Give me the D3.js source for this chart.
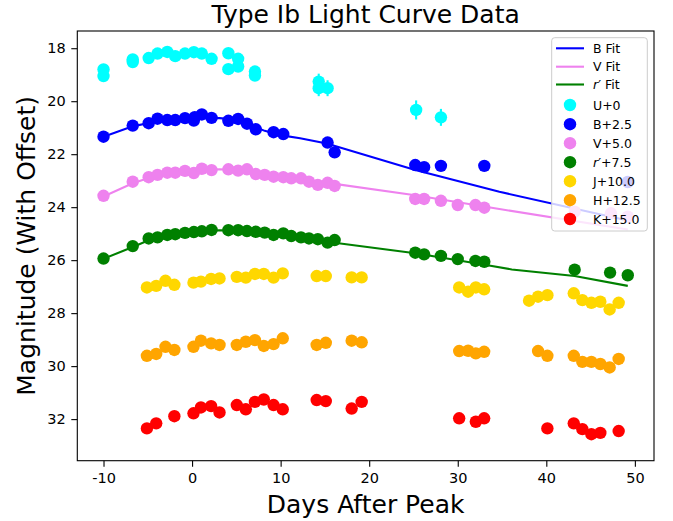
<!DOCTYPE html>
<html>
<head>
<meta charset="utf-8">
<script src="https://cdn.jsdelivr.net/npm/d3@7"></script>
<style>
  body { margin: 0; background: #fff; }
  svg { font-family: "DejaVu Sans", sans-serif; }
</style>
</head>
<body>
<div id="chart"></div>
<script>
// band data: [days after peak, magnitude with offset]
const uPoints = [[-10, 18.8], [-10, 19.05], [-6.7, 18.42], [-6.7, 18.52], [-4.9, 18.37], [-3.9, 18.2],
  [-2.8, 18.14], [-1.9, 18.3], [-0.8, 18.2], [0.2, 18.15], [1.1, 18.2], [2.2, 18.4], [4.1, 18.19],
  [4.1, 18.79], [5.2, 18.4], [5.2, 18.69], [7.1, 18.88], [7.1, 19.03], [14.3, 19.26], [14.3, 19.51],
  [15.3, 19.51], [25.3, 20.33], [28.1, 20.61]];
const uErrors = [0.05, 0.05, 0.05, 0.05, 0.05, 0.05, 0.05, 0.05, 0.05, 0.05, 0.05, 0.05, 0.05,
  0.05, 0.05, 0.05, 0.05, 0.05, 0.3, 0.3, 0.3, 0.36, 0.32];
const bPoints = [[-10, 21.34], [-6.7, 20.92], [-4.9, 20.83], [-3.9, 20.66], [-2.8, 20.71], [-1.9, 20.71],
  [-0.8, 20.64], [0.2, 20.73], [0.3, 20.6], [1.1, 20.5], [2.2, 20.63], [4.1, 20.74], [5.2, 20.67],
  [6.2, 20.85], [7.2, 21.06], [9.2, 21.17], [10.3, 21.24], [15.3, 21.56], [16.1, 21.93], [25.2, 22.41],
  [26.2, 22.49], [28.1, 22.44], [33.0, 22.44], [49.2, 23.05]];
const vPoints = [[-10, 23.57], [-6.7, 23.04], [-4.9, 22.87], [-3.9, 22.78], [-2.8, 22.7], [-1.9, 22.7],
  [-0.8, 22.63], [0.2, 22.71], [1.1, 22.55], [2.2, 22.6], [4.1, 22.57], [5.2, 22.62], [6.2, 22.57],
  [7.2, 22.75], [8.2, 22.78], [9.2, 22.85], [10.3, 22.87], [11.2, 22.91], [12.3, 22.91], [13.2, 23.04],
  [14.2, 23.16], [15.3, 23.08], [16.1, 23.2], [25.2, 23.69], [26.2, 23.69], [28.1, 23.76], [30.0, 23.92],
  [32.0, 23.92], [33.0, 24.02], [43.2, 24.17], [47.3, 24.23], [49.2, 24.36]];
const rPoints = [[-10, 25.94], [-6.7, 25.47], [-4.9, 25.18], [-3.9, 25.14], [-2.8, 25.05], [-1.9, 25.02],
  [-0.8, 24.97], [0.2, 24.94], [1.1, 24.91], [2.2, 24.86], [4.1, 24.87], [5.2, 24.87], [6.2, 24.9],
  [7.2, 24.93], [8.2, 24.96], [9.2, 25.05], [10.3, 24.99], [11.2, 25.09], [12.3, 25.14], [13.2, 25.18],
  [14.2, 25.21], [15.3, 25.34], [16.1, 25.24], [25.2, 25.72], [26.2, 25.78], [28.1, 25.84], [30.0, 25.96],
  [32.0, 26.03], [33.0, 26.06], [43.2, 26.36], [47.2, 26.47], [49.2, 26.57]];
const jPoints = [[-5.1, 27.03], [-4.05, 26.97], [-3.0, 26.78], [-2.0, 26.93], [0.16, 26.85], [1.0, 26.81],
  [2.15, 26.71], [3.1, 26.69], [5.05, 26.63], [6.07, 26.66], [7.1, 26.52], [8.1, 26.52], [9.2, 26.66],
  [10.24, 26.5], [14.07, 26.6], [15.1, 26.6], [18.02, 26.65], [19.15, 26.65], [30.16, 27.03],
  [31.17, 27.19], [32.04, 27.03], [32.98, 27.1], [38.05, 27.53], [39.07, 27.38], [40.12, 27.32],
  [43.1, 27.25], [44.07, 27.51], [45.09, 27.61], [46.1, 27.57], [47.15, 27.86], [48.17, 27.61]];
const hPoints = [[-5.1, 29.61], [-4.05, 29.54], [-3.0, 29.27], [-2.0, 29.39], [0.16, 29.27], [1.0, 29.04],
  [2.15, 29.14], [3.1, 29.2], [5.05, 29.2], [6.07, 29.08], [7.1, 29.02], [8.1, 29.24], [9.2, 29.17],
  [10.24, 28.95], [14.07, 29.2], [15.1, 29.12], [18.02, 29.04], [19.15, 29.1], [30.16, 29.43],
  [31.17, 29.42], [32.04, 29.52], [32.98, 29.46], [39.07, 29.43], [40.12, 29.61], [43.1, 29.61],
  [44.07, 29.84], [45.09, 29.84], [46.1, 29.92], [47.15, 30.05], [48.17, 29.73]];
const kPoints = [[-5.1, 32.35], [-4.05, 32.16], [-2.0, 31.89], [0.16, 31.78], [1.0, 31.56], [2.15, 31.51],
  [3.1, 31.75], [5.05, 31.47], [6.07, 31.63], [7.1, 31.35], [8.1, 31.26], [9.2, 31.47], [10.24, 31.63],
  [14.07, 31.28], [15.1, 31.32], [18.02, 31.6], [19.15, 31.35], [30.16, 31.97], [32.04, 32.1],
  [32.98, 31.97], [40.12, 32.35], [43.1, 32.16], [44.07, 32.38], [45.09, 32.57], [46.1, 32.52],
  [48.17, 32.45]];

// fitted curves
const bFit = [[-10, 21.34], [-6.7, 20.95], [-4.9, 20.82], [-2.8, 20.72], [-0.8, 20.66], [1.1, 20.63],
  [3.1, 20.64], [5.2, 20.7], [7.2, 20.98], [8.2, 21.12], [10.3, 21.3], [12.2, 21.4], [15.2, 21.6],
  [25.2, 22.6], [34.7, 23.42], [49.2, 24.5]];
const vFit = [[-10, 23.6], [-6.7, 23.1], [-4.9, 22.9], [-2.8, 22.75], [-0.8, 22.65], [1.1, 22.6],
  [3.1, 22.57], [5.2, 22.6], [7.2, 22.68], [10.2, 22.85], [16.1, 23.12], [25.2, 23.55], [34.7, 24.07],
  [49.2, 24.84]];
const rFit = [[-10, 25.95], [-6.7, 25.5], [-4.9, 25.25], [-2.8, 25.08], [-0.8, 24.97], [1.1, 24.9],
  [3.1, 24.87], [5.2, 24.88], [7.2, 24.94], [10.2, 25.07], [16.1, 25.34], [25.2, 25.74], [33.2, 26.18],
  [36.1, 26.35], [43.2, 26.6], [49.2, 26.97]];

const xTicks = [-10, 0, 10, 20, 30, 40, 50];
const yTicks = [18, 20, 22, 24, 26, 28, 30, 32];

const fits = [
  { label: "B Fit", color: "#0000ff", data: bFit },
  { label: "V Fit", color: "#ee82ee", data: vFit },
  { label: "r", suffix: "′ Fit", color: "#008000", data: rFit }
];
const bands = [
  { label: "U+0", color: "#00ffff", data: uPoints },
  { label: "B+2.5", color: "#0000ff", data: bPoints },
  { label: "V+5.0", color: "#ee82ee", data: vPoints },
  { label: "r", suffix: "′+7.5", color: "#008000", data: rPoints },
  { label: "J+10.0", color: "#ffd700", data: jPoints },
  { label: "H+12.5", color: "#ffa500", data: hPoints },
  { label: "K+15.0", color: "#ff0000", data: kPoints }
];

const width = 673;
const height = 521;
const margin = { top: 31, left: 77.3, right: 19, bottom: 60.3 };

const svg = d3.select("#chart")
  .append("svg")
  .attr("width", width)
  .attr("height", height);

const x = d3.scaleLinear()
  .domain([-12.96, 52.16])
  .range([margin.left, width - margin.right]);

const y = d3.scaleLinear()
  .domain([17.35, 33.57])
  .range([margin.top, height - margin.bottom]);

// fit lines
const line = d3.line()
  .x(d => x(d[0]))
  .y(d => y(d[1]));

svg.append("g")
  .selectAll("path")
  .data(fits)
  .enter().append("path")
  .attr("d", d => line(d.data))
  .attr("fill", "none")
  .attr("stroke", d => d.color)
  .attr("stroke-width", 2.1);

// U error bars
svg.append("g")
  .selectAll("line")
  .data(uPoints)
  .enter().append("line")
  .attr("x1", d => x(d[0]))
  .attr("x2", d => x(d[0]))
  .attr("y1", (d, i) => y(d[1] - uErrors[i]))
  .attr("y2", (d, i) => y(d[1] + uErrors[i]))
  .attr("stroke", "#00ffff")
  .attr("stroke-width", 2.1);

// data points
bands.forEach(band => {
  svg.append("g")
    .selectAll("circle")
    .data(band.data)
    .enter().append("circle")
    .attr("cx", d => x(d[0]))
    .attr("cy", d => y(d[1]))
    .attr("r", 6.2)
    .attr("fill", band.color);
});

// axes
const xAxis = svg.append("g")
  .attr("transform", `translate(0,${height - margin.bottom})`)
  .call(d3.axisBottom(x).tickValues(xTicks).tickFormat(d => String(d)).tickSizeOuter(0).tickSize(6).tickPadding(6));

const yAxis = svg.append("g")
  .attr("transform", `translate(${margin.left},0)`)
  .call(d3.axisLeft(y).tickValues(yTicks).tickFormat(d => String(d)).tickSizeOuter(0).tickSize(6).tickPadding(5.5));

[xAxis, yAxis].forEach(g => {
  g.select(".domain").remove();
  g.selectAll(".tick line").attr("stroke", "#000").attr("stroke-width", 1.1);
  g.selectAll(".tick text")
    .attr("fill", "#000")
    .style("font-family", "DejaVu Sans")
    .style("font-size", "14.5px");
});

// frame
svg.append("rect")
  .attr("x", margin.left)
  .attr("y", margin.top)
  .attr("width", width - margin.left - margin.right)
  .attr("height", height - margin.top - margin.bottom)
  .attr("fill", "none")
  .attr("stroke", "#000")
  .attr("stroke-width", 1.1);

// titles
svg.append("text")
  .attr("x", (margin.left + width - margin.right) / 2)
  .attr("y", 23)
  .attr("text-anchor", "middle")
  .style("font-size", "25px")
  .text("Type Ib Light Curve Data");

svg.append("text")
  .attr("x", (margin.left + width - margin.right) / 2)
  .attr("y", 513)
  .attr("text-anchor", "middle")
  .style("font-size", "25px")
  .text("Days After Peak");

svg.append("text")
  .attr("transform", `translate(35,${(margin.top + height - margin.bottom) / 2}) rotate(-90)`)
  .attr("text-anchor", "middle")
  .style("font-size", "25px")
  .text("Magnitude (With Offset)");

// legend
const legend = svg.append("g");

legend.append("rect")
  .attr("x", 551.7)
  .attr("y", 37.7)
  .attr("width", 95.6)
  .attr("height", 193.3)
  .attr("rx", 3)
  .attr("fill", "#fff")
  .attr("fill-opacity", 0.8)
  .attr("stroke", "#cccccc")
  .attr("stroke-width", 1);

const fitRows = [48.3, 66.7, 84.5];
const bandRows = [105, 124.2, 143.2, 162.2, 181.2, 200.2, 219];

function legendLabel(sel, d) {
  sel.append("tspan")
    .style("font-style", d.suffix ? "italic" : "normal")
    .text(d.label);
  if (d.suffix) sel.append("tspan").text(d.suffix);
}

fits.forEach((d, i) => {
  legend.append("line")
    .attr("x1", 556).attr("x2", 584)
    .attr("y1", fitRows[i]).attr("y2", fitRows[i])
    .attr("stroke", d.color)
    .attr("stroke-width", 2.1);
  legend.append("text")
    .attr("x", 593)
    .attr("y", fitRows[i] + 4.6)
    .style("font-size", "12.5px")
    .call(legendLabel, d);
});

bands.forEach((d, i) => {
  legend.append("circle")
    .attr("cx", 570)
    .attr("cy", bandRows[i])
    .attr("r", 6.2)
    .attr("fill", d.color);
  legend.append("text")
    .attr("x", 593)
    .attr("y", bandRows[i] + 4.6)
    .style("font-size", "12.5px")
    .call(legendLabel, d);
});
</script>
</body>
</html>
